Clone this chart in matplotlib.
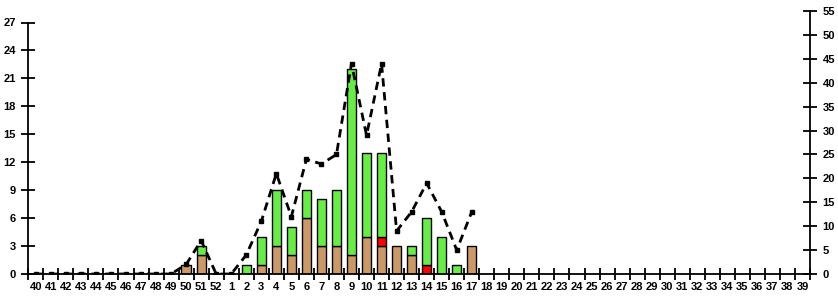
import matplotlib.pyplot as plt
import numpy as np

plt.rcParams['font.family'] = ['Liberation Sans', 'DejaVu Sans']

# weeks 40..52 then 1..39
weeks = [str(w) for w in range(40, 53)] + [str(w) for w in range(1, 40)]

# stacked bar parts, listed from week 40 to week 17 (rest are zero)
brown_part = [0, 0, 0, 0, 0, 0, 0, 0, 0, 0, 1, 2, 0,
              0, 0, 1, 3, 2, 6, 3, 3, 2, 4, 3, 3, 2, 0, 0, 0, 3]
red_part = [0, 0, 0, 0, 0, 0, 0, 0, 0, 0, 0, 0, 0,
            0, 0, 0, 0, 0, 0, 0, 0, 0, 0, 1, 0, 0, 1, 0, 0, 0]
green_part = [0, 0, 0, 0, 0, 0, 0, 0, 0, 0, 0, 1, 0,
              0, 1, 3, 6, 3, 3, 5, 6, 20, 9, 9, 0, 1, 5, 4, 1, 0]
# dashed line (right axis)
line_vals = [0, 0, 0, 0, 0, 0, 0, 0, 0, 0, 2, 7, 0,
             0, 4, 11, 21, 12, 24, 23, 25, 44, 29, 44, 9, 13, 19, 13, 5, 13]

n = len(weeks)
pad_len = n - len(brown_part)
brown = np.array(brown_part + [0] * pad_len)
red = np.array(red_part + [0] * pad_len)
green = np.array(green_part + [0] * pad_len)
x = np.arange(n)

W, H = 838, 300
fig = plt.figure(figsize=(W / 100, H / 100), dpi=100)

x0, x1 = 28.3 / W, 810 / W
y_bot = (H - 274) / H
ax = fig.add_axes([x0, y_bot, x1 - x0, (274 - 22.5) / H])
ax2 = fig.add_axes([x0, y_bot, x1 - x0, (274 - 11) / H])
ax2.patch.set_visible(False)

bw = 0.62
ec = dict(edgecolor='black', linewidth=1)
ax.bar(x[brown > 0], brown[brown > 0], bw, color='#CC9966', **ec)
ax.bar(x[red > 0], red[red > 0], bw, bottom=brown[red > 0], color='#FF0000', **ec)
ax.bar(x[green > 0], green[green > 0], bw, bottom=(brown + red)[green > 0],
       color='#66EE44', **ec)

ax.set_xlim(-0.5, n - 0.5)
ax.set_ylim(0, 27)
ax.set_yticks(range(0, 28, 3))
for s in ['top', 'right']:
    ax.spines[s].set_visible(False)
ax.spines['left'].set_linewidth(1.3)
ax.spines['bottom'].set_linewidth(1.3)
ax.tick_params(axis='y', direction='inout', length=10, width=1.3, pad=4,
               labelsize=8)
ax.set_xticks(x)
ax.set_xticklabels(weeks)
ax.set_xticks(np.arange(-0.5, n, 1), minor=True)
ax.tick_params(axis='x', which='major', length=0, pad=5.5, labelsize=8)
ax.tick_params(axis='x', which='minor', direction='inout', length=8, width=1.3)
for lab in ax.get_xticklabels() + ax.get_yticklabels():
    lab.set_fontweight('bold')

xl = np.arange(len(line_vals))
ax2.plot(xl, line_vals, color='black', lw=2, ls=(0, (3, 2)),
         marker='s', ms=3.2, mfc='black', mec='black')
ax2.set_xlim(-0.5, n - 0.5)
ax2.set_ylim(0, 55)
ax2.set_yticks(range(0, 56, 5))
ax2.yaxis.tick_right()
for s in ['top', 'left', 'bottom']:
    ax2.spines[s].set_visible(False)
ax2.spines['right'].set_linewidth(1.3)
ax2.set_xticks([])
ax2.tick_params(axis='y', direction='inout', length=10, width=1.3, pad=4,
                labelsize=8)
for lab in ax2.get_yticklabels():
    lab.set_fontweight('bold')

fig.savefig('out.png', dpi=100)
